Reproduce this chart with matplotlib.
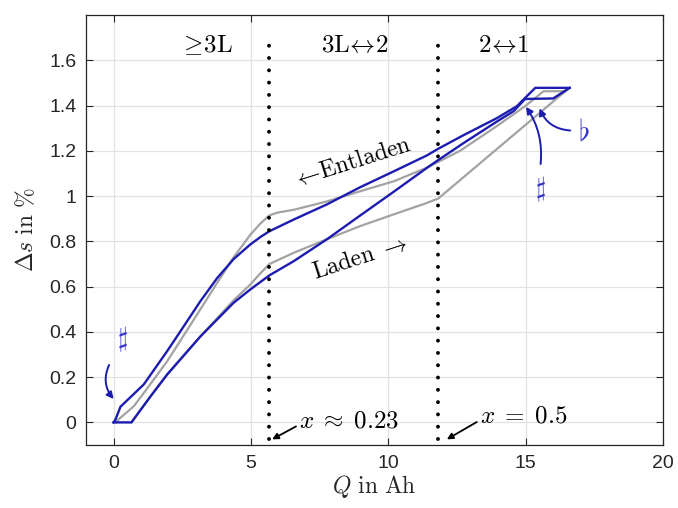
import matplotlib
matplotlib.use("Agg")
import matplotlib.pyplot as plt
from matplotlib.patches import FancyArrowPatch
from matplotlib.ticker import FormatStrFormatter

# === DATA ===
# blue, charge path (lower branch incl. top-right step)
blue_lad_q = [0, 0.65, 1.35, 1.95, 3.16, 4.37, 4.98, 5.67, 6.56, 7.77, 8.98,
              10.2, 11.4, 11.82, 12.74, 13.95, 14.56, 14.98, 16.0, 16.6]
blue_lad_s = [0, 0, 0.116, 0.212, 0.38, 0.529, 0.588, 0.65, 0.713, 0.81, 0.915,
              1.02, 1.125, 1.16, 1.235, 1.33, 1.376, 1.43, 1.432, 1.479]
# blue, discharge path (upper branch), from full back to empty
blue_ent_q = [16.6, 15.35, 15.04, 14.68, 13.95, 12.74, 11.82, 11.4, 10.2, 8.98,
              7.77, 6.56, 5.67, 5.35, 4.98, 4.37, 3.77, 3.16, 2.56, 1.95,
              1.10, 0.25, 0.07, 0]
blue_ent_s = [1.479, 1.479, 1.442, 1.398, 1.345, 1.27, 1.21, 1.18, 1.11, 1.04,
              0.964, 0.897, 0.845, 0.82, 0.787, 0.722, 0.638, 0.536, 0.426, 0.315,
              0.168, 0.069, 0.013, 0]
# gray, charge path
gray_lad_q = [0.65, 1.35, 1.95, 3.16, 4.37, 4.98, 5.35, 5.67, 6.56, 7.77, 8.98,
              10.2, 11.4, 11.82, 16.55]
gray_lad_s = [0, 0.116, 0.21, 0.38, 0.54, 0.61, 0.66, 0.70, 0.75, 0.81, 0.868,
              0.92, 0.97, 0.99, 1.475]
# gray, discharge path
gray_ent_q = [16.55, 16.45, 15.65, 15.0, 13.95, 12.6, 11.4, 10.2, 8.98, 7.77,
              6.56, 5.95, 5.67, 5.35, 4.98, 4.37, 3.77, 3.16, 1.95, 1.10, 0.74,
              0.15, 0.1]
gray_ent_s = [1.475, 1.464, 1.464, 1.40, 1.31, 1.2, 1.126, 1.066, 1.022, 0.977,
              0.94, 0.927, 0.915, 0.88, 0.83, 0.73, 0.617, 0.50, 0.27, 0.13, 0.072,
              0.01, 0]

stage_bounds = [5.67, 11.82]
stage_labels = [r"$\geq\!\mathrm{3L}$", r"$\mathrm{3L}\!\leftrightarrow\!2$", r"$2\!\leftrightarrow\!1$"]
stage_label_q = [3.35, 8.8, 14.2]

# === STYLE ===
plt.rcParams["mathtext.fontset"] = "cm"
plt.rcParams["font.family"] = ["Liberation Sans", "DejaVu Sans"]
BLUE = "#1c1cb0"
SYMBLUE = "#3535c8"
GRAY = "#a3a3a3"
AXC = "#262626"

fig = plt.figure(figsize=(6.78, 5.08), dpi=100)
ax = fig.add_axes([0.127, 0.124, 0.851, 0.846])

# === CURVES ===
ax.plot(gray_lad_q, gray_lad_s, color=GRAY, lw=1.6, zorder=3)
ax.plot(gray_ent_q, gray_ent_s, color=GRAY, lw=1.6, zorder=3)
ax.plot(blue_lad_q, blue_lad_s, color=BLUE, lw=1.7, zorder=4)
ax.plot(blue_ent_q, blue_ent_s, color=BLUE, lw=1.7, zorder=4)

# stage boundaries
for qb in stage_bounds:
    ax.plot([qb, qb], [-0.075, 1.67], color="black", lw=2.8,
            linestyle=(0, (0.01, 3.15)), dash_capstyle="round", zorder=5)

for lab, q in zip(stage_labels, stage_label_q):
    ax.text(q, 1.67, lab, fontsize=18, ha="center", va="center", color="black")

# direction labels
ax.text(8.68, 1.148, r"$\leftarrow\!\mathrm{Entladen}$", fontsize=17, rotation=17.5,
        ha="center", va="center", rotation_mode="anchor")
ax.text(8.98, 0.728, r"$\mathrm{Laden}\ \rightarrow$", fontsize=17, rotation=18,
        ha="center", va="center", rotation_mode="anchor")

# composition annotations
ax.annotate(r"$x\;\approx\;0.23$", xy=(5.77, -0.075), xytext=(6.74, 0.01),
            fontsize=18, va="center", ha="left",
            arrowprops=dict(arrowstyle="-|>", color="black", lw=1.3,
                            mutation_scale=9, shrinkA=0, shrinkB=0,
                            relpos=(0, 0.3)))
ax.annotate(r"$x\;=\;0.5$", xy=(12.13, -0.075), xytext=(13.32, 0.03),
            fontsize=18, va="center", ha="left",
            arrowprops=dict(arrowstyle="-|>", color="black", lw=1.3,
                            mutation_scale=9, shrinkA=0, shrinkB=0,
                            relpos=(0, 0.3)))

# sharp / flat markers
ax.text(0.33, 0.37, r"$\sharp$", fontsize=19, color=SYMBLUE, ha="center", va="center")
ax.add_patch(FancyArrowPatch((-0.12, 0.265), (0.07, 0.094),
                             connectionstyle="arc3,rad=0.35", arrowstyle="-|>",
                             mutation_scale=10, color=BLUE, lw=1.4, zorder=6))
ax.text(15.53, 1.03, r"$\sharp$", fontsize=19, color=SYMBLUE, ha="center", va="center")
ax.add_patch(FancyArrowPatch((15.53, 1.13), (14.95, 1.405),
                             connectionstyle="arc3,rad=0.2", arrowstyle="-|>",
                             mutation_scale=10, color=BLUE, lw=1.4, zorder=6))
ax.text(17.1, 1.28, r"$\flat$", fontsize=21, color=SYMBLUE, ha="center", va="center")
ax.add_patch(FancyArrowPatch((16.72, 1.29), (15.47, 1.40),
                             connectionstyle="arc3,rad=-0.35", arrowstyle="-|>",
                             mutation_scale=10, color=BLUE, lw=1.4, zorder=6))

# === AXES ===
ax.set_xlim(-1, 20)
ax.set_ylim(-0.1, 1.8)
ax.set_xticks([0, 5, 10, 15, 20])
ax.set_yticks([0, 0.2, 0.4, 0.6, 0.8, 1.0, 1.2, 1.4, 1.6])
ax.yaxis.set_major_formatter(FormatStrFormatter("%g"))
ax.grid(True, color="#e2e2e2", lw=0.9, zorder=0)
ax.set_axisbelow(True)
ax.tick_params(direction="in", top=True, right=True, length=5, width=0.8,
               labelsize=14, colors=AXC, pad=7)
for sp in ax.spines.values():
    sp.set_color(AXC)
    sp.set_linewidth(0.9)

ax.set_xlabel(r"$Q\ \mathrm{in\ Ah}$", fontsize=17, color=AXC, labelpad=1)
ax.set_ylabel(r"$\Delta s\ \mathrm{in}\ \%$", fontsize=17, color=AXC, labelpad=8)

plt.savefig("out.png", dpi=100)
plt.close()
